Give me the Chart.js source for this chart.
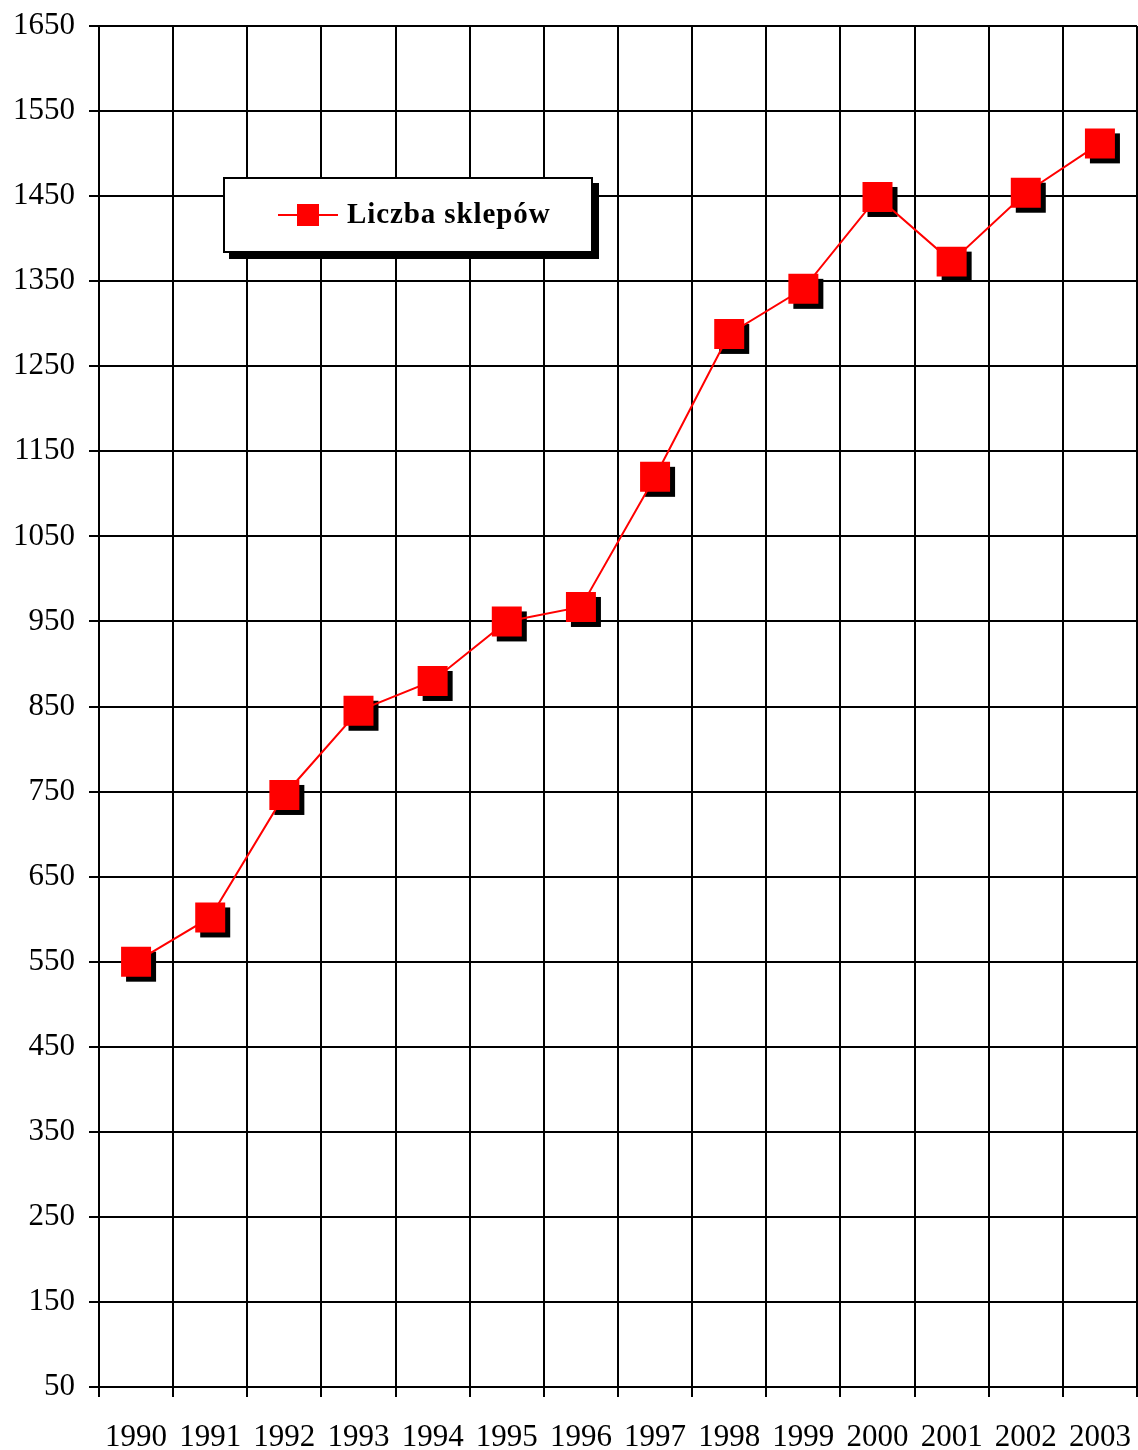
<!DOCTYPE html>
<html lang="pl">
<head>
<meta charset="UTF-8">
<title>Liczba sklepów</title>
<script src="https://cdn.jsdelivr.net/npm/chart.js"></script>
<style>
  body { margin: 0; background: #fff; overflow: hidden; }
  #wrap { position: relative; width: 1138px; height: 1450px; }
  canvas { display: block; }
  #legend {
    position: absolute; left: 223px; top: 177px; width: 366px; height: 72px;
    border: 2px solid #000; background: #fff; box-shadow: 6px 6px 0 #000;
    font-family: "Liberation Serif", "Times New Roman", serif; font-weight: bold; font-size: 29px;
  }
  #legend .line { position: absolute; left: 53px; top: 35px; width: 60px; height: 2px; background: #f00; }
  #legend .box { position: absolute; left: 72px; top: 25px; width: 22px; height: 22px; background: #f00; }
  #legend .txt { position: absolute; left: 122px; top: 18px; letter-spacing: 0.9px; }
</style>
</head>
<body>
<div id="wrap">
  <canvas id="chart" width="1138" height="1450"></canvas>
  <div id="legend"><div class="line"></div><div class="box"></div><div class="txt">Liczba sklepów</div></div>
</div>
<script>
// data
var years = ["1990", "1991", "1992", "1993", "1994", "1995", "1996", "1997", "1998", "1999", "2000", "2001", "2002", "2003"];
var shops = [550, 602, 746, 845, 880, 950, 967, 1120, 1288, 1341, 1449, 1373, 1454, 1512];
var yMin = 50;
var yMax = 1650;
var yStep = 100;

// black drop shadow behind each marker
var markerShadow = {
  id: "markerShadow",
  beforeDatasetsDraw: function (chart) {
    var ctx = chart.ctx;
    var pts = chart.getDatasetMeta(0).data;
    ctx.save();
    ctx.fillStyle = "#000";
    pts.forEach(function (p) {
      ctx.fillRect(p.x - 15 + 5, p.y - 15 + 5, 30, 30);
    });
    ctx.restore();
  }
};

var font = { family: "'Liberation Serif', 'Times New Roman', serif", size: 31 };

var ctx = document.getElementById("chart").getContext("2d");
var myChart = new Chart(ctx, {
  type: "line",
  data: {
    labels: years,
    datasets: [{
      label: "Liczba sklepów",
      data: shops,
      borderColor: "#ff0000",
      borderWidth: 2,
      backgroundColor: "#ff0000",
      pointStyle: "rect",
      pointRadius: 21.2,
      pointBorderWidth: 0,
      pointBackgroundColor: "#ff0000",
      tension: 0
    }]
  },
  options: {
    responsive: false,
    animation: false,
    events: [],
    // no auto padding, otherwise the big markers push the plot in from the right
    layout: { autoPadding: false, padding: { top: 26, right: 1, left: 0, bottom: 0 } },
    plugins: { legend: { display: false }, tooltip: { enabled: false } },
    scales: {
      x: {
        offset: true,
        grid: { offset: true, color: "#000", lineWidth: 2, tickLength: 10 },
        border: { color: "#000", width: 2 },
        ticks: { color: "#000", font: font, padding: 22, maxRotation: 0, autoSkip: false },
        afterFit: function (scale) {
          scale.height = 63;
          scale.paddingLeft = 0;
          scale.paddingRight = 0;
        }
      },
      y: {
        min: yMin,
        max: yMax,
        grid: { color: "#000", lineWidth: 2, tickLength: 10 },
        border: { color: "#000", width: 2 },
        ticks: {
          stepSize: yStep, color: "#000", font: font, padding: 14,
          callback: function (v) { return String(v); }
        },
        afterFit: function (scale) {
          scale.width = 99;
          scale.paddingTop = 0;
          scale.paddingBottom = 0;
        }
      }
    }
  },
  plugins: [markerShadow]
});
</script>
</body>
</html>
